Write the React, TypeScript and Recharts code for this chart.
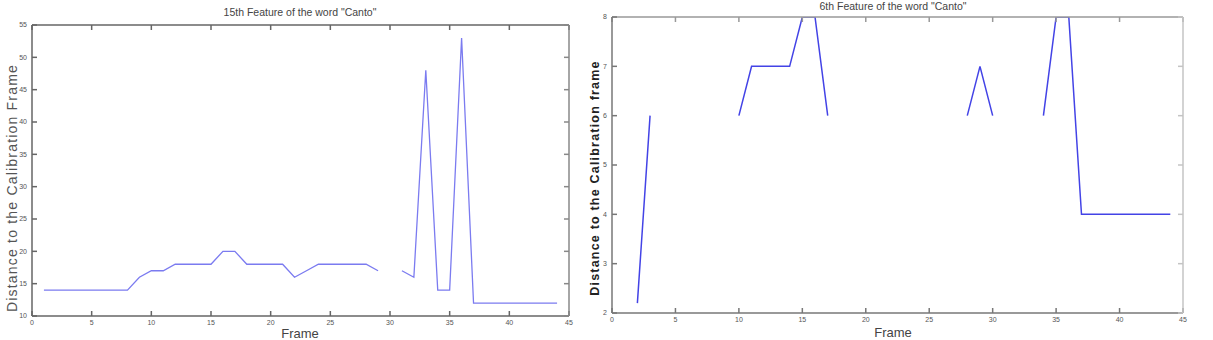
import React from 'react';
import { LineChart, Line, XAxis, YAxis } from 'recharts';

const xTicks = [0, 5, 10, 15, 20, 25, 30, 35, 40, 45];
const leftYTicks = [10, 15, 20, 25, 30, 35, 40, 45, 50, 55];
const rightYTicks = [2, 3, 4, 5, 6, 7, 8];

const leftFrames = [1, 2, 3, 4, 5, 6, 7, 8, 9, 10, 11, 12, 13, 14, 15, 16, 17, 18, 19, 20, 21, 22, 23, 24, 25, 26, 27, 28, 29, 30, 31, 32, 33, 34, 35, 36, 37, 38, 39, 40, 41, 42, 43, 44];
const leftValues = [14, 14, 14, 14, 14, 14, 14, 14, 16, 17, 17, 18, 18, 18, 18, 20, 20, 18, 18, 18, 18, 16, 17, 18, 18, 18, 18, 18, 17, null, 17, 16, 48, 14, 14, 53, 12, 12, 12, 12, 12, 12, 12, 12];

const rightFrames = [2, 3, 4, 5, 6, 7, 8, 9, 10, 11, 12, 13, 14, 15, 16, 17, 18, 19, 20, 21, 22, 23, 24, 25, 26, 27, 28, 29, 30, 31, 32, 33, 34, 35, 36, 37, 38, 39, 40, 41, 42, 43, 44];
const rightValues = [2.2, 6, null, null, null, null, null, null, 6, 7, 7, 7, 7, 8, 8, 6, null, null, null, null, null, null, null, null, null, null, 6, 7, 6, null, null, null, 6, 8, 8, 4, 4, 4, 4, 4, 4, 4, 4];

const leftTitle = '15th Feature of the word "Canto"';
const rightTitle = '6th Feature of the word "Canto"';
const leftYLabel = 'Distance to the Calibration Frame';
const rightYLabel = 'Distance to the Calibration frame';
const xLabel = 'Frame';

const FONT = '"Liberation Sans", Arial, Helvetica, sans-serif';

const leftData = leftFrames.map((f, i) => ({ frame: f, value: leftValues[i] }));
const rightData = rightFrames.map((f, i) => ({ frame: f, value: rightValues[i] }));

type PanelProps = {
  data: { frame: number; value: number | null }[];
  left: number;
  width: number;
  margin: { top: number; right: number; bottom: number; left: number };
  yDomain: [number, number];
  yTicks: number[];
  lineColor: string;
  lineWidth: number;
  axisColor: string;
  topAxisColor: string;
  farAxisColor: string;
};

const tickStyle = { fontSize: 7, fill: '#555', fontFamily: FONT };

function Panel(p: PanelProps) {
  return (
    <div style={{ position: 'absolute', left: p.left, top: 0, width: p.width, height: 340 }}>
      <LineChart width={p.width} height={340} data={p.data} margin={p.margin}>
        <XAxis
          xAxisId="b"
          type="number"
          dataKey="frame"
          domain={[0, 45]}
          ticks={xTicks}
          interval={0}
          allowDataOverflow
          height={1}
          tickSize={-5}
          tickMargin={9}
          tick={tickStyle}
          stroke={p.axisColor}
          strokeWidth={1.5}
        />
        <XAxis
          xAxisId="t"
          orientation="top"
          type="number"
          dataKey="frame"
          domain={[0, 45]}
          ticks={xTicks}
          interval={0}
          allowDataOverflow
          height={1}
          tickSize={-5}
          tickFormatter={() => ''}
          stroke={p.topAxisColor}
          strokeWidth={1.5}
        />
        <YAxis
          yAxisId="l"
          type="number"
          domain={p.yDomain}
          ticks={p.yTicks}
          interval={0}
          allowDataOverflow
          width={1}
          tickSize={-5}
          tickMargin={10}
          tick={tickStyle}
          stroke={p.axisColor}
          strokeWidth={1.5}
        />
        <YAxis
          yAxisId="r"
          orientation="right"
          type="number"
          domain={p.yDomain}
          ticks={p.yTicks}
          interval={0}
          allowDataOverflow
          width={1}
          tickSize={-5}
          tickFormatter={() => ''}
          stroke={p.farAxisColor}
          strokeWidth={1.5}
        />
        <Line
          xAxisId="b"
          yAxisId="l"
          type="linear"
          dataKey="value"
          stroke={p.lineColor}
          strokeWidth={p.lineWidth}
          dot={false}
          activeDot={false}
          connectNulls={false}
          isAnimationActive={false}
        />
      </LineChart>
    </div>
  );
}

function Label(props: { text: string; cx: number; cy: number; size: number; color: string; bold?: boolean; rotate?: boolean; spacing?: number }) {
  return (
    <div
      style={{
        position: 'absolute',
        left: props.cx,
        top: props.cy,
        transform: `translate(-50%, -50%)${props.rotate ? ' rotate(-90deg)' : ''}`,
        whiteSpace: 'nowrap',
        fontFamily: FONT,
        fontSize: props.size,
        color: props.color,
        fontWeight: props.bold ? 'bold' : 'normal',
        letterSpacing: props.spacing ?? 0,
        lineHeight: 1,
      }}
    >
      {props.text}
    </div>
  );
}

export default function App() {
  return (
    <div style={{ position: 'absolute', left: 0, top: 0, width: 1213, height: 340, background: '#fff', overflow: 'hidden' }}>
      <Panel
        data={leftData}
        left={0}
        width={600}
        margin={{ top: 24, right: 30, bottom: 23, left: 31 }}
        yDomain={[10, 55]}
        yTicks={leftYTicks}
        lineColor="#7b7bf0"
        lineWidth={1.3}
        axisColor="#666"
        topAxisColor="#666"
        farAxisColor="#888"
      />
      <Panel
        data={rightData}
        left={600}
        width={613}
        margin={{ top: 16, right: 29, bottom: 26, left: 11 }}
        yDomain={[2, 8]}
        yTicks={rightYTicks}
        lineColor="#4343e6"
        lineWidth={1.5}
        axisColor="#777"
        topAxisColor="#999"
        farAxisColor="#c4c4c4"
      />
      <Label text={leftTitle} cx={300} cy={12} size={10.5} color="#444" />
      <Label text={rightTitle} cx={893} cy={6} size={10.5} color="#444" />
      <Label text={leftYLabel} cx={12} cy={188} size={14} color="#555" rotate spacing={1.2} />
      <Label text={rightYLabel} cx={595} cy={178} size={12.5} color="#222" bold rotate spacing={1.2} />
      <Label text={xLabel} cx={300} cy={333} size={13} color="#444" />
      <Label text={xLabel} cx={893} cy={332} size={13} color="#444" />
    </div>
  );
}
